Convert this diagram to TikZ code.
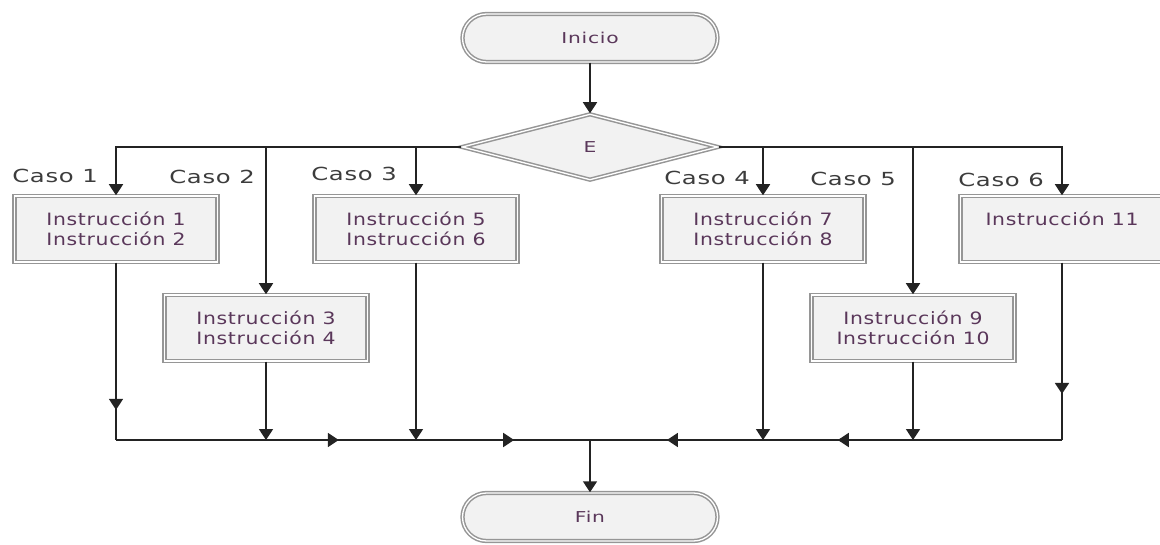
\documentclass[tikz,border=0pt]{standalone}
\usepackage{fontspec}
\setmainfont{DejaVu Sans}
\newfontfamily\boxfont[FakeStretch=1.2,LetterSpace=4]{DejaVu Sans}
\newfontfamily\casofont[FakeStretch=1.35,LetterSpace=4]{DejaVu Sans}
\newfontfamily\termfont[FakeStretch=1.35,LetterSpace=5]{DejaVu Sans}
\usetikzlibrary{shapes.geometric,arrows.meta,decorations.markings}
\definecolor{boxtext}{RGB}{90,55,90}
\definecolor{casotext}{RGB}{60,60,60}
\definecolor{boxfill}{RGB}{242,242,242}
\definecolor{boxline}{RGB}{150,150,150}
\definecolor{conn}{RGB}{35,35,35}
\tikzset{
  dbl/.style={draw=boxline,double=white,line width=1.5pt,double distance=1.3pt,fill=boxfill},
  instbox/.style={dbl,rectangle,minimum width=203pt,minimum height=66pt,align=center,
    font=\boxfont\fontsize{17}{20}\selectfont,text=boxtext,inner sep=0pt},
  term/.style={dbl,rectangle,rounded corners=24pt,minimum width=255pt,minimum height=48pt,
    font=\termfont\fontsize{15}{18}\selectfont,text=boxtext},
  decision/.style={dbl,diamond,minimum width=256pt,minimum height=66pt,
    font=\termfont\fontsize{15}{18}\selectfont,text=boxtext,inner sep=0pt},
  caso/.style={font=\casofont\fontsize{18}{20}\selectfont,text=casotext,inner sep=0pt},
  tip/.tip={Triangle[length=11pt,width=14pt]},
  conn/.style={draw=conn,line width=1.8pt},
  arr/.style={conn,-tip},
  midarr/.style={conn,postaction={decorate},decoration={markings,mark=at position #1 with {\arrow{tip}}}},
  twoarr/.style 2 args={conn,postaction={decorate},decoration={markings,
    mark=at position #1 with {\arrow{tip}},mark=at position #2 with {\arrow{tip}}}},
}
\begin{document}
\begin{tikzpicture}[x=1pt,y=-1pt]
\useasboundingbox (0,0) rectangle (1160,545);
% terminals and decision
\node[term] (ini) at (590,38) {Inicio};
\node[decision] (E) at (590,147) {E};
\node[term] (fin) at (590,517) {Fin};
% instruction boxes
\node[instbox] (b1) at (116,229) {Instrucción 1\\Instrucción 2};
\node[instbox] (b2) at (266,328) {Instrucción 3\\Instrucción 4};
\node[instbox] (b3) at (416,229) {Instrucción 5\\Instrucción 6};
\node[instbox] (b4) at (763,229) {Instrucción 7\\Instrucción 8};
\node[instbox] (b5) at (913,328) {Instrucción 9\\Instrucción 10};
\node[instbox] (b6) at (1062,229) {Instrucción 11\\\mbox{}};
% case labels
\node[caso] (c1) at (55,176) {Caso 1};
\node[caso] (c2) at (212,177) {Caso 2};
\node[caso] (c3) at (354,174) {Caso 3};
\node[caso] (c4) at (707,178) {Caso 4};
\node[caso] (c5) at (853,179) {Caso 5};
\node[caso] (c6) at (1001,180) {Caso 6};
% bus coordinates
\coordinate (L) at (116,440);
\coordinate (R) at (1062,440);
\coordinate (M) at (590,440);
% top connectors
\draw[arr] (ini) -- (E);
\draw[arr] (E.west) -| (b1.north);
\draw[arr] (b2.north |- E.west) -- (b2.north);
\draw[arr] (b3.north |- E.west) -- (b3.north);
\draw[arr] (E.east) -| (b6.north);
\draw[arr] (b4.north |- E.east) -- (b4.north);
\draw[arr] (b5.north |- E.east) -- (b5.north);
% bottom connectors
\draw[midarr=0.83] (b1.south) -- (L);
\draw[midarr=0.74] (b6.south) -- (R);
\draw[arr] (b2.south) -- (b2.south |- L);
\draw[arr] (b3.south) -- (b3.south |- L);
\draw[arr] (b4.south) -- (b4.south |- L);
\draw[arr] (b5.south) -- (b5.south |- L);
\draw[twoarr={0.47}{0.84}] (L) -- (M);
\draw[twoarr={0.475}{0.837}] (R) -- (M);
\draw[arr] (M) -- (fin);
\end{tikzpicture}
\end{document}
